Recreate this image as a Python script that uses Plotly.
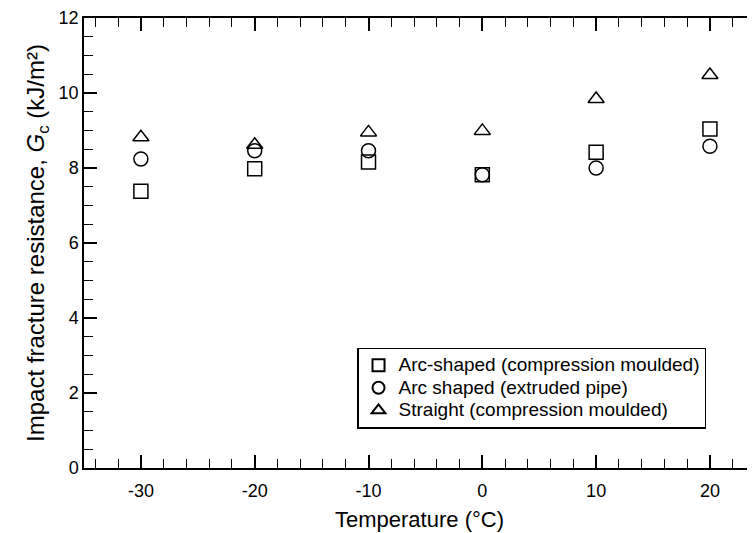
import plotly.graph_objects as go

temperature = [-30, -20, -10, 0, 10, 20]
arc_compression = [7.38, 7.98, 8.16, 7.82, 8.42, 9.04]
arc_extruded = [8.24, 8.46, 8.46, 7.82, 8.0, 8.58]
straight_compression = [8.82, 8.62, 8.95, 8.99, 9.84, 10.48]

x_tick_vals = [-30, -20, -10, 0, 10, 20]
x_tick_text = ["-30", "-20", "-10", "0", "10", "20"]
y_tick_vals = [0, 2, 4, 6, 8, 10, 12]
y_tick_text = ["0", "2", "4", "6", "8", "10", "12"]

names = ["Arc-shaped (compression moulded)", "Arc shaped (extruded pipe)", "Straight (compression moulded)"]
symbols = ["square-open", "circle-open", "triangle-up-open"]

FONT = "Arial, Liberation Sans, sans-serif"

fig = go.Figure()
for name, vals, sym in zip(names, [arc_compression, arc_extruded, straight_compression], symbols):
    fig.add_trace(go.Scatter(
        x=temperature, y=vals, mode="markers",
        name='<span style="font-size:19px">' + name + "</span>",
        marker=dict(symbol=sym, size=14, color="black", line=dict(color="black", width=1.5)),
    ))
fig.add_trace(go.Scatter(x=[], y=[], yaxis="y2", showlegend=False, hoverinfo="skip"))

fig.update_layout(
    width=747, height=525,
    margin=dict(l=76, r=0, t=8, b=65),
    paper_bgcolor="white", plot_bgcolor="white",
    font=dict(family=FONT, size=18, color="black"),
    showlegend=True,
    legend=dict(
        x=0.4069, y=0.2677, xanchor="left", yanchor="top",
        bgcolor="white", bordercolor="black", borderwidth=1.5,
        font=dict(family=FONT, size=15, color="black"),
        tracegroupgap=0, itemsizing="constant",
    ),
    xaxis=dict(
        range=[-35, 23.96], tickmode="array", tickvals=x_tick_vals, ticktext=x_tick_text,
        ticks="inside", ticklen=13, tickwidth=1.5, tickcolor="black",
        minor=dict(dtick=2, tick0=-30, ticks="inside", ticklen=9, tickwidth=1.2, tickcolor="black"),
        showline=True, linecolor="black", linewidth=1.5, mirror="ticks",
        showgrid=False, zeroline=False, ticklabelstandoff=6, ticklabeloverflow="allow",
        tickfont=dict(family=FONT, size=18),
        title=dict(text="Temperature (°C)", font=dict(family=FONT, size=22), standoff=11),
    ),
    yaxis=dict(
        range=[0, 12], tickmode="array", tickvals=y_tick_vals, ticktext=y_tick_text,
        ticks="inside", ticklen=13, tickwidth=1.5, tickcolor="black",
        minor=dict(dtick=0.5, tick0=0, ticks="inside", ticklen=9, tickwidth=1.2, tickcolor="black"),
        showline=True, linecolor="black", linewidth=1.5, mirror=False,
        showgrid=False, zeroline=False, ticklabeloverflow="allow",
        tickfont=dict(family=FONT, size=18),
        title=dict(text="Impact fracture resistance, <i>G</i><sub>c</sub> (kJ/m²)",
                   font=dict(family=FONT, size=24), standoff=7),
    ),
    yaxis2=dict(
        range=[0, 12], overlaying="y", side="right", anchor="x",
        tickmode="array", tickvals=y_tick_vals,
        ticks="inside", ticklen=5, tickwidth=1.5, tickcolor="black",
        minor=dict(dtick=0.5, tick0=0, ticks="inside", ticklen=2, tickwidth=1.2, tickcolor="black"),
        showline=False, showticklabels=False, showgrid=False, zeroline=False,
    ),
)

fig.write_html("out.html")
